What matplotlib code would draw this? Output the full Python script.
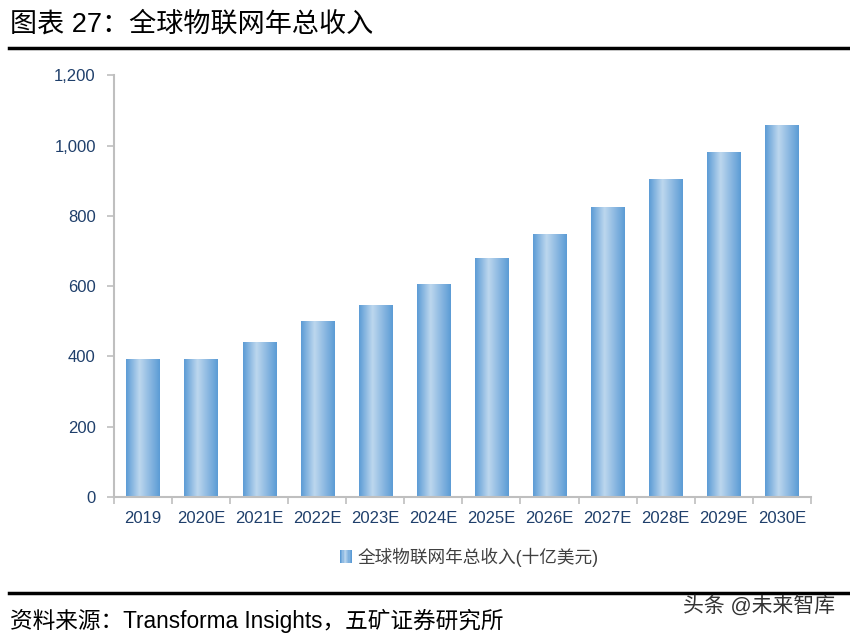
import numpy as np
import matplotlib
matplotlib.use('Agg')
import matplotlib.pyplot as plt
from matplotlib.colors import LinearSegmentedColormap
from matplotlib.patches import Rectangle
from matplotlib.legend_handler import HandlerBase

# 数据
years = ['2019', '2020E', '2021E', '2022E', '2023E', '2024E',
         '2025E', '2026E', '2027E', '2028E', '2029E', '2030E']
revenue = [390, 390, 441, 498, 546, 606, 680, 748, 825, 904, 981, 1058]
series_name = '全球物联网年总收入(十亿美元)'
title = '图表 27：全球物联网年总收入'
source = '资料来源：Transforma Insights，五矿证券研究所'
watermark = '头条 @未来智库'

plt.rcParams['font.family'] = ['Liberation Sans', 'Noto Sans CJK SC', 'DejaVu Sans']

# 柱子渐变色 (左深 -> 中浅 -> 右深)
cmap = LinearSegmentedColormap.from_list(
    'bar_grad', [(0, '#5B9BD5'), (0.4, '#BDD7EE'), (1, '#5B9BD5')])
grad = np.linspace(0, 1, 256).reshape(1, -1)

tick_color = '#1F3F6B'
spine_color = '#BFBFBF'

fig = plt.figure(figsize=(8.5, 6.38), dpi=100)
ax = fig.add_axes([0.134, 0.221, 0.820, 0.661])

x = np.arange(len(years))
width = 0.57
bars = ax.bar(x, revenue, width=width, color='none', edgecolor='none')
for b in bars:
    x0, w, h = b.get_x(), b.get_width(), b.get_height()
    ax.imshow(grad, cmap=cmap, aspect='auto', extent=[x0, x0 + w, 0, h],
              interpolation='bicubic', zorder=2)

ax.set_xlim(-0.5, len(years) - 0.5)
ax.set_ylim(0, 1200)
ax.set_yticks(range(0, 1201, 200))
ax.set_yticklabels([f'{v:,}' for v in range(0, 1201, 200)])
ax.set_xticks(x)
ax.set_xticklabels(years)
# 类别之间的刻度线
ax.set_xticks(np.arange(-0.5, len(years), 1), minor=True)
ax.tick_params(axis='x', which='major', length=0, pad=10, labelsize=12,
               labelcolor=tick_color)
ax.tick_params(axis='x', which='minor', length=5, color=spine_color, width=1.2)
ax.tick_params(axis='y', length=5, color=spine_color, width=1.2, pad=8,
               labelsize=12, labelcolor=tick_color)
for s in ['top', 'right']:
    ax.spines[s].set_visible(False)
for s in ['left', 'bottom']:
    ax.spines[s].set_color(spine_color)
    ax.spines[s].set_linewidth(1.5)


# 图例中的渐变方块
class GradHandler(HandlerBase):
    def create_artists(self, legend, orig_handle, xdescent, ydescent,
                       width, height, fontsize, trans):
        arts = []
        n = 10
        side = height
        x0 = xdescent + width - side
        for i in range(n):
            c = cmap(i / (n - 1))
            arts.append(Rectangle((x0 + side * i / n, -ydescent), side / n, side,
                                  facecolor=c, edgecolor='none', transform=trans))
        return arts


proxy = Rectangle((0, 0), 1, 1)
fig.legend([proxy], [series_name], handler_map={Rectangle: GradHandler()},
           loc='center', bbox_to_anchor=(0.551, 0.127), frameon=False,
           fontsize=12.7, handlelength=0.8, handletextpad=0.3,
           labelcolor='#404040')

# 标题与分隔线
fig.text(0.012, 0.962, title, fontsize=19.5, va='center', ha='left', color='black')
fig.add_artist(plt.Line2D([0.01, 1.0], [0.925, 0.925], color='black', lw=2.5))
fig.add_artist(plt.Line2D([0.01, 1.0], [0.071, 0.071], color='black', lw=2.5))
fig.text(0.012, 0.027, source, fontsize=16.3, va='center', ha='left', color='black')
fig.text(0.982, 0.049, watermark, fontsize=15, va='center', ha='right', color='#333333')

fig.savefig('out.png', dpi=100)
